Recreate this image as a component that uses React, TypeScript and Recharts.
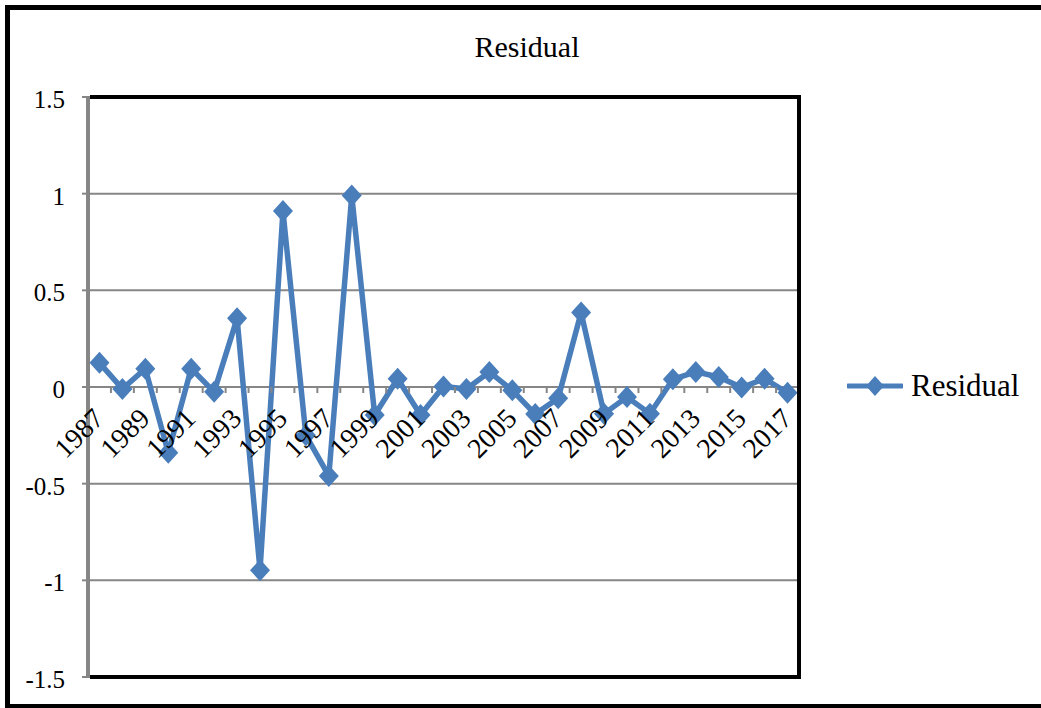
import { CartesianGrid, Legend, Line, LineChart, XAxis, YAxis } from 'recharts';

const years = [
  '1987', '1988', '1989', '1990', '1991', '1992', '1993', '1994', '1995', '1996',
  '1997', '1998', '1999', '2000', '2001', '2002', '2003', '2004', '2005', '2006',
  '2007', '2008', '2009', '2010', '2011', '2012', '2013', '2014', '2015', '2016', '2017',
];
const residuals = [
  0.125, -0.01, 0.095, -0.34, 0.095, -0.025, 0.355, -0.948, 0.91, -0.25,
  -0.46, 0.99, -0.145, 0.043, -0.145, 0.003, -0.01, 0.078, -0.017, -0.14,
  -0.058, 0.385, -0.138, -0.052, -0.138, 0.04, 0.078, 0.052, -0.003, 0.043, -0.03,
];
const yTicks = [-1.5, -1, -0.5, 0, 0.5, 1, 1.5];

const data = years.map((year, i) => ({ year, residual: residuals[i] }));

const WIDTH = 1041;
const HEIGHT = 708;
const PLOT = { left: 88, top: 97, right: 799, bottom: 677 };
const PLOT_H = PLOT.bottom - PLOT.top;
const HALF_BAND = (PLOT.right - PLOT.left) / years.length / 2;
const BLUE = '#4A7EBB';
const GRID = '#868686';
const FONT = '"Liberation Serif", "Times New Roman", serif';

const Diamond = ({ cx, cy }: any) => {
  if (cx == null || cy == null) return null;
  return (
    <polygon
      points={`${cx},${cy - 11} ${cx + 10},${cy} ${cx},${cy + 11} ${cx - 10},${cy}`}
      fill={BLUE}
    />
  );
};

// category axis sits on the zero line, so ticks are drawn up from the plot bottom
const YearTick = ({ x, y, payload, index }: any) => {
  const zeroY = y - PLOT_H / 2;
  const lx = x + 6;
  const ly = zeroY + 33;
  return (
    <g>
      <line x1={x + HALF_BAND} x2={x + HALF_BAND} y1={zeroY} y2={zeroY + 6} stroke={GRID} strokeWidth={2} />
      {index % 2 === 0 && (
        <text
          x={lx}
          y={ly}
          textAnchor="end"
          transform={`rotate(-45 ${lx} ${ly})`}
          fontSize={28}
          fontFamily={FONT}
          fill="#000"
        >
          {payload.value}
        </text>
      )}
    </g>
  );
};

const ValueTick = ({ x, y, payload }: any) => (
  <text x={x} y={y + 11} textAnchor="end" fontSize={25} fontFamily={FONT} fill="#000">
    {payload.value}
  </text>
);

const SeriesLegend = ({ payload }: any) => (
  <div style={{ display: 'flex', alignItems: 'center' }}>
    {(payload ?? []).map((item: any) => (
      <div key={item.value} style={{ display: 'flex', alignItems: 'center' }}>
        <svg width={56} height={24}>
          <line x1={1} x2={55} y1={12} y2={12} stroke={BLUE} strokeWidth={5} strokeLinecap="round" />
          <polygon points="28,2 37,12 28,22 19,12" fill={BLUE} />
        </svg>
        <span style={{ marginLeft: 8, fontSize: 31, fontFamily: FONT, color: '#000', lineHeight: '32px' }}>
          {item.value}
        </span>
      </div>
    ))}
  </div>
);

export default function App() {
  return (
    <div
      style={{
        position: 'absolute',
        left: 0,
        top: 0,
        width: WIDTH,
        height: HEIGHT,
        overflow: 'hidden',
        background: '#fff',
        fontFamily: FONT,
      }}
    >
      <div
        style={{
          position: 'absolute',
          left: 5,
          top: 5,
          width: WIDTH - 5,
          height: HEIGHT - 5,
          boxSizing: 'border-box',
          borderTop: '5px solid #000',
          borderLeft: '5px solid #000',
          borderBottom: '4px solid #000',
        }}
      />
      <div
        style={{
          position: 'absolute',
          left: 227,
          top: 32,
          width: 600,
          textAlign: 'center',
          fontSize: 30,
          lineHeight: '30px',
          color: '#000',
        }}
      >
        Residual
      </div>
      <div style={{ position: 'absolute', left: 0, top: 0 }}>
        <LineChart
          width={WIDTH}
          height={HEIGHT}
          data={data}
          margin={{ top: PLOT.top, right: WIDTH - PLOT.right, bottom: HEIGHT - PLOT.bottom - 2, left: 0 }}
        >
          <CartesianGrid vertical={false} stroke={GRID} strokeWidth={2} />
          <XAxis
            dataKey="year"
            height={2}
            interval={0}
            padding={{ left: HALF_BAND, right: HALF_BAND }}
            axisLine={false}
            tickLine={false}
            tickSize={0}
            tickMargin={0}
            tick={<YearTick />}
          />
          <YAxis
            domain={[-1.5, 1.5]}
            ticks={yTicks}
            interval={0}
            width={PLOT.left}
            axisLine={{ stroke: GRID, strokeWidth: 4 }}
            tickLine={{ stroke: GRID, strokeWidth: 2 }}
            tickSize={6}
            tickMargin={17}
            tick={<ValueTick />}
            allowDataOverflow
          />
          <Legend
            layout="horizontal"
            align="center"
            verticalAlign="middle"
            wrapperStyle={{ left: 847, top: 370, width: 190 }}
            content={<SeriesLegend />}
          />
          <Line
            name="Residual"
            dataKey="residual"
            stroke={BLUE}
            strokeWidth={5.5}
            dot={<Diamond />}
            activeDot={false}
            isAnimationActive={false}
          />
        </LineChart>
      </div>
      {/* plot area frame: top, right and bottom edges; the value axis forms the left edge */}
      <div
        style={{
          position: 'absolute',
          left: PLOT.left + 2,
          top: PLOT.top - 2,
          width: PLOT.right - PLOT.left,
          height: PLOT_H + 4,
          boxSizing: 'border-box',
          borderTop: '4px solid #000',
          borderRight: '4px solid #000',
          borderBottom: '4px solid #000',
          pointerEvents: 'none',
        }}
      />
    </div>
  );
}
